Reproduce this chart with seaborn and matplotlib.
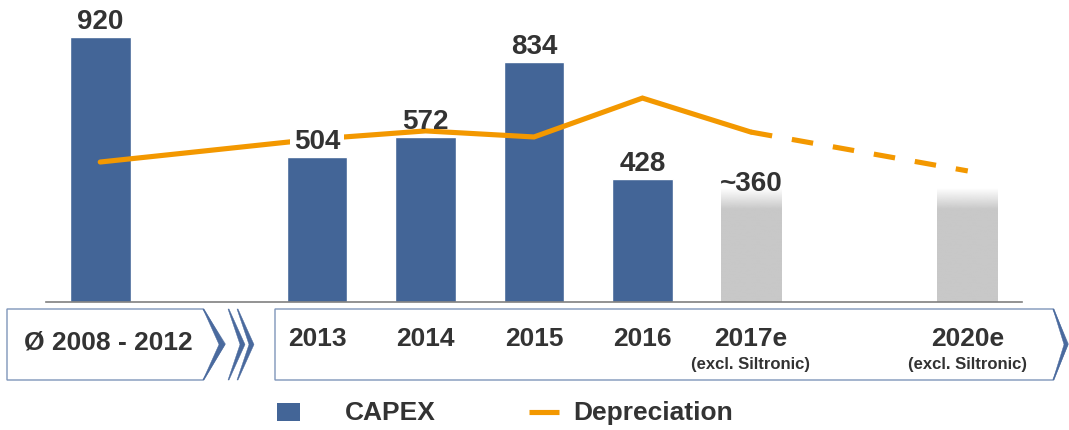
import numpy as np
import pandas as pd
import matplotlib
matplotlib.use("Agg")
import matplotlib.pyplot as plt
import matplotlib.transforms as mtransforms
from matplotlib.patches import Polygon, Rectangle
from matplotlib.lines import Line2D
import seaborn as sns

# ---------------- data ----------------
categories = ["Ø 2008 - 2012", "2013", "2014", "2015", "2016", "2017e", "2020e"]
sub_labels = ["", "", "", "", "", "(excl. Siltronic)", "(excl. Siltronic)"]
positions = [0, 2, 3, 4, 5, 6, 8]
capex = [920, 504, 572, 834, 428, 360, 360]
capex_labels = ["920", "504", "572", "834", "428", "~360", ""]
capex_kind = ["Actual", "Actual", "Actual", "Actual", "Actual", "Estimate", "Estimate"]
depreciation = [486, 566, 594, 573, 708, 590, 455]
dep_kind = ["Actual", "Actual", "Actual", "Actual", "Actual", "Actual", "Estimate"]

# ---------------- style ----------------
BLUE = "#436597"
GRAY = "#C8C8C8"
ORANGE = "#F39800"
TEXT = "#333333"
EDGE = "#4A6A9E"
THIN = "#7F95BA"

sns.set_theme(style="white")
plt.rcParams["font.family"] = ["Liberation Sans", "DejaVu Sans"]
plt.rcParams["font.weight"] = "bold"

W, H = 1069, 431
fig = plt.figure(figsize=(W / 100, H / 100), dpi=100)

# decoration layer (pixel coordinates)
deco = fig.add_axes([0, 0, 1, 1], zorder=0)
deco.set_xlim(0, W)
deco.set_ylim(H, 0)
deco.axis("off")

ax = fig.add_axes([46 / W, 1 - 303 / H, (1022 - 46) / W, 303 / H], zorder=1)
ax.patch.set_alpha(0)

df = pd.DataFrame({"pos": positions, "capex": capex, "kind": capex_kind})
sns.barplot(data=df, x="pos", y="capex", hue="kind",
            palette={"Actual": BLUE, "Estimate": GRAY},
            native_scale=True, width=0.56, dodge=False, saturation=1,
            legend=False, ax=ax, zorder=2)

XLIM = (-0.5, 8.5)
YLIM = (0, 1052)

# fade the top of the estimate bars
gray_rgb = matplotlib.colors.to_rgb(GRAY)
for p in ax.patches:
    fc = p.get_facecolor()
    if np.allclose(fc[:3], gray_rgb, atol=0.02):
        x0, w, h = p.get_x(), p.get_width(), p.get_height()
        top = h * 1.09
        ys = np.linspace(0, top, 300)
        alpha = np.clip((top - ys) / (h * 0.2), 0, 1)
        img = np.zeros((len(ys), 1, 4))
        img[..., :3] = gray_rgb
        img[:, 0, 3] = alpha
        ax.imshow(img, extent=(x0, x0 + w, 0, top), origin="lower",
                  aspect="auto", zorder=2, interpolation="bilinear")
        p.set_visible(False)

# depreciation line
dfl = pd.DataFrame({"pos": positions, "dep": depreciation, "kind": dep_kind})
solid = dfl[dfl["kind"] == "Actual"]
last_actual = solid.index.max()
dashed = dfl.loc[last_actual:]
sns.lineplot(data=solid, x="pos", y="dep", color=ORANGE, lw=3.7, ax=ax,
             zorder=3, solid_joinstyle="miter")
sns.lineplot(data=dashed, x="pos", y="dep", color=ORANGE, lw=3.7, ax=ax,
             zorder=3, linestyle=(0, (4.2, 3.9)), dash_capstyle="butt")

# value labels (white box only where the line runs through the number)
for pos, val, lab, dep in zip(positions, capex, capex_labels, depreciation):
    if not lab:
        continue
    mask = val + 40 <= dep <= val + 90
    kw = {}
    if mask:
        kw["bbox"] = dict(boxstyle="square,pad=0.15", fc="white", ec="none")
    ax.annotate(lab, (pos, val), xytext=(0, 2), textcoords="offset points",
                ha="center", va="bottom", fontsize=20, fontweight="bold",
                color=TEXT, zorder=5, **kw)

ax.set_xlim(*XLIM)
ax.set_ylim(*YLIM)
ax.set_xlabel("")
ax.set_ylabel("")
ax.set_xticks([])
ax.set_yticks([])
for s in ["top", "right", "left"]:
    ax.spines[s].set_visible(False)
ax.spines["bottom"].set_color("#808080")
ax.spines["bottom"].set_linewidth(1.2)
ax.spines["bottom"].set_zorder(4)

# category boxes (decoration)
deco.add_patch(Polygon([(7, 310), (203, 310), (225, 345), (203, 381), (7, 381)],
                       closed=True, fc="white", ec=THIN, lw=1.0))
deco.add_patch(Polygon([(275, 310), (1053, 310), (1068, 345), (1053, 381), (275, 381)],
                       closed=True, fc="white", ec=THIN, lw=1.0))


def chevron(xt, xtip, thick):
    pts = [(xt, 310), (xtip, 345.5), (xt, 381), (xt - 1, 381),
           (xtip - thick, 345.5), (xt - 1, 310)]
    deco.add_patch(Polygon(pts, closed=True, fc=EDGE, ec=EDGE, lw=0.3))


chevron(204, 225, 6)
chevron(229, 245, 5)
chevron(238, 254, 5)
chevron(1054, 1068, 4)

# category labels
blend = mtransforms.blended_transform_factory(ax.transData, fig.transFigure)
for pos, cat, sub in zip(positions, categories, sub_labels):
    if cat.startswith("Ø"):
        off = mtransforms.ScaledTranslation(8 / 100, 0, fig.dpi_scale_trans)
        fig.text(pos, 1 - 343 / H, cat, transform=blend + off, ha="center",
                 va="center", fontsize=19, fontweight="bold", color=TEXT)
    else:
        fig.text(pos, 1 - 339 / H, cat, transform=blend, ha="center",
                 va="center", fontsize=19, fontweight="bold", color=TEXT)
    if sub:
        fig.text(pos, 1 - 365 / H, sub, transform=blend, ha="center",
                 va="center", fontsize=12, fontweight="bold", color=TEXT)

# legend
deco.add_patch(Rectangle((277, 404), 23, 18, fc=BLUE, ec="none"))
deco.text(345, 413, "CAPEX", ha="left", va="center", fontsize=19,
          fontweight="bold", color=TEXT)
deco.add_line(Line2D([529, 559], [413, 413], color=ORANGE, lw=3.7,
                     solid_capstyle="butt"))
deco.text(573, 413, "Depreciation", ha="left", va="center", fontsize=19,
          fontweight="bold", color=TEXT)

fig.savefig("out.png", dpi=100)
